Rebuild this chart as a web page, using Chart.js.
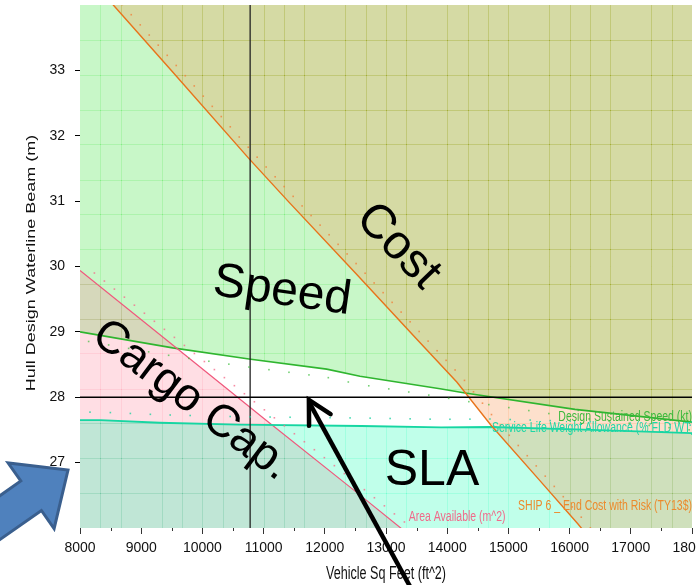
<!DOCTYPE html>
<html><head><meta charset="utf-8">
<script src="https://cdn.jsdelivr.net/npm/chart.js@4/dist/chart.umd.min.js"></script>
<style>html,body{margin:0;padding:0;background:#fff;overflow:hidden}canvas{display:block}</style>
</head><body>
<canvas id="c" width="696" height="585"></canvas>
<script>
// ---------- data ----------
const xTickValues = [8000, 9000, 10000, 11000, 12000, 13000, 14000, 15000, 16000, 17000, 18000];
const xMinorTicks = [8500, 9500, 10500, 11500, 12500, 13500, 14500, 15500, 16500, 17500];
const yTickValues = [27, 28, 29, 30, 31, 32, 33];
const gridX = [8333, 8667, 9333, 9667, 10000, 10333, 11000, 11333, 11667, 12333, 12667, 13000, 13333,
               14000, 14333, 14667, 15000, 15667, 16000, 16333, 16667, 17333, 17667];
const gridY = [33.47, 32.93, 32.40, 31.87, 31.33, 30.80, 30.27, 29.73, 29.20, 28.67, 28.13, 27.60, 27.07, 26.53];
const xTitle = 'Vehicle Sq Feet (ft^2)';
const yTitle = 'Hull Design Waterline Beam (m)';

// SHIP 6 _ End Cost with Risk (TY13$)
const costX = [8000, 8544, 9500, 10761, 11399, 12500, 13500, 14160, 14709, 15500, 16137, 16300, 18000];
const costY = [34.58, 34.00, 32.99, 31.65, 31.00, 29.90, 28.89, 28.23, 27.58, 26.74, 26.06, 25.88, 24.08];
// Design Sustained Speed (kt)
const speedX = [8000, 9515, 10761, 12031, 12575, 13882, 14291, 16088, 18000];
const speedY = [29.00, 28.755, 28.585, 28.43, 28.32, 28.13, 28.065, 27.815, 27.62];
// Service Life Weight Allowance (% FLD WT)
const slaX = [8000, 8330, 9300, 10600, 12600, 13900, 14700, 16100, 18000];
const slaY = [27.65, 27.65, 27.61, 27.58, 27.56, 27.54, 27.545, 27.51, 27.45];
// Area Available (m^2)
const areaX = [8000, 9500, 11000, 12500, 13300, 18000];
const areaY = [29.94, 28.81, 27.68, 26.56, 25.955, 22.42];
// selected design point
const markerX = 10780;
const markerY = 28.0;

const FONT = "'Liberation Sans', Arial, Helvetica, sans-serif";
const zip = (xs, ys) => xs.map((x, i) => ({x: x, y: ys[i]}));

// ---------- plugins ----------
const bgPlugin = {
  id: 'bg',
  beforeDraw(chart) {
    const ctx = chart.ctx;
    ctx.save(); ctx.fillStyle = '#fff'; ctx.fillRect(0, 0, chart.width, chart.height); ctx.restore();
  }
};

function clipArea(ctx, a) { ctx.beginPath(); ctx.rect(a.left, a.top, a.right - a.left, a.bottom - a.top); ctx.clip(); }

const gridPlugin = {
  id: 'burnGrid',
  beforeDatasetsDraw(chart) {
    const {ctx, chartArea: a, scales: {x, y}} = chart;
    ctx.save(); clipArea(ctx, a);
    ctx.globalCompositeOperation = 'color-burn';
    ctx.strokeStyle = 'rgb(172,172,172)';
    ctx.lineWidth = 1;
    gridX.forEach(v => { const p = Math.round(x.getPixelForValue(v)) + 0.5; ctx.beginPath(); ctx.moveTo(p, a.top); ctx.lineTo(p, a.bottom); ctx.stroke(); });
    gridY.forEach(v => { const p = Math.round(y.getPixelForValue(v)) + 0.5; ctx.beginPath(); ctx.moveTo(a.left, p); ctx.lineTo(a.right, p); ctx.stroke(); });
    ctx.restore();
  }
};

function pointOn(pts, px) {
  for (let i = 0; i < pts.length - 1; i++) {
    const p = pts[i], q = pts[i + 1];
    if (px >= p.x && px <= q.x) { const t = (px - p.x) / (q.x - p.x); return {y: p.y + t * (q.y - p.y), dx: q.x - p.x, dy: q.y - p.y}; }
  }
  return null;
}
const dotSpecs = [
  {ds: 0, side: 1, dist: 7, step: 9, color: 'rgba(240,130,60,0.8)'},
  {ds: 1, side: 1, dist: 8, step: 20, color: 'rgba(30,210,160,0.8)'},
  {ds: 2, side: 1, dist: 7, step: 10, color: 'rgba(245,110,140,0.8)'},
  {ds: 3, side: -1, dist: 8, step: 20, color: 'rgba(60,190,60,0.7)'}
];
const dotsPlugin = {
  id: 'dots',
  afterDatasetsDraw(chart) {
    const {ctx, chartArea: a} = chart;
    ctx.save(); clipArea(ctx, a);
    dotSpecs.forEach(s => {
      const pts = chart.getDatasetMeta(s.ds).data.map(e => ({x: e.x, y: e.y}));
      ctx.fillStyle = s.color;
      for (let px = a.left + 10; px < a.right; px += s.step) {
        const r = pointOn(pts, px); if (!r) continue;
        const len = Math.hypot(r.dx, r.dy);
        const nx = s.side * r.dy / len, ny = -s.side * r.dx / len;
        ctx.fillRect(px + nx * s.dist - 0.8, r.y + ny * s.dist - 0.8, 1.6, 1.6);
      }
    });
    ctx.restore();
  }
};

const textPlugin = {
  id: 'texts',
  afterDatasetsDraw(chart) {
    const {ctx, chartArea: a, scales: {x, y}} = chart;
    ctx.save(); clipArea(ctx, a);
    const big = [
      {t: 'Cost', x: 13196, y: 30.31, r: 46, s: 48},
      {t: 'Speed', x: 11301, y: 29.62, r: 8, s: 48},
      {t: 'Cargo Cap.', x: 9820, y: 27.95, r: 37, s: 46},
      {t: 'SLA', x: 13752, y: 26.87, r: 0, s: 50}
    ];
    ctx.fillStyle = '#000'; ctx.textAlign = 'center'; ctx.textBaseline = 'middle';
    big.forEach(b => {
      ctx.save();
      ctx.translate(x.getPixelForValue(b.x), y.getPixelForValue(b.y));
      ctx.rotate(b.r * Math.PI / 180);
      ctx.font = b.s + 'px ' + FONT;
      ctx.fillText(b.t, 0, 0);
      ctx.restore();
    });
    const small = [
      {t: 'Design Sustained Speed (kt)', x: 18000, y: 27.7, align: 'right', c: '#3cb93c'},
      {t: 'Service Life Weight Allowance (% FLD WT)', x: 14730, y: 27.52, align: 'left', c: '#1fd6a6'},
      {t: 'SHIP 6 _ End Cost with Risk (TY13$)', x: 18000, y: 26.33, align: 'right', c: '#ec8a2c'},
      {t: 'Area Available (m^2)', x: 13370, y: 26.17, align: 'left', c: '#f06a8a'}
    ];
    ctx.textBaseline = 'middle';
    small.forEach(b => {
      ctx.save();
      ctx.translate(x.getPixelForValue(b.x), y.getPixelForValue(b.y));
      ctx.scale(0.75, 1);
      ctx.font = '14px ' + FONT;
      ctx.fillStyle = b.c; ctx.textAlign = b.align;
      ctx.fillText(b.t, 0, 0);
      ctx.restore();
    });
    ctx.restore();
  }
};

const overlayPlugin = {
  id: 'overlay',
  afterDraw(chart) {
    const {ctx, chartArea: a, scales: {x, y}} = chart;
    ctx.save();
    // minor x ticks
    ctx.strokeStyle = '#333'; ctx.lineWidth = 1;
    xMinorTicks.forEach(v => { const p = Math.round(x.getPixelForValue(v)) + 0.5; ctx.beginPath(); ctx.moveTo(p, a.bottom); ctx.lineTo(p, a.bottom + 3); ctx.stroke(); });
    // axis titles (horizontally condensed as in the source screenshot)
    ctx.fillStyle = '#111'; ctx.textAlign = 'center'; ctx.textBaseline = 'middle';
    ctx.font = '18px ' + FONT;
    ctx.save(); ctx.translate((a.left + a.right) / 2, 574); ctx.scale(0.7, 1); ctx.fillText(xTitle, 0, 0); ctx.restore();
    ctx.save(); ctx.translate(32, 263); ctx.rotate(-Math.PI / 2); ctx.scale(1, 0.7); ctx.fillText(yTitle, 0, 0); ctx.restore();
    // black pointer arrow toward the design point
    const tip = {x: x.getPixelForValue(11740), y: y.getPixelForValue(27.96)};
    const tail = {x: tip.x + 103, y: tip.y + 190};
    const ang = Math.atan2(tail.y - tip.y, tail.x - tip.x);
    ctx.strokeStyle = '#000'; ctx.lineWidth = 4.5; ctx.lineCap = 'butt';
    ctx.beginPath(); ctx.moveTo(tail.x, tail.y); ctx.lineTo(tip.x, tip.y + 2); ctx.stroke();
    ctx.lineCap = 'round'; ctx.lineJoin = 'miter';
    ctx.beginPath();
    ctx.moveTo(tip.x + 26 * Math.cos(ang + 0.49), tip.y + 26 * Math.sin(ang + 0.49));
    ctx.lineTo(tip.x, tip.y);
    ctx.lineTo(tip.x + 26 * Math.cos(ang - 0.49), tip.y + 26 * Math.sin(ang - 0.49));
    ctx.stroke();
    // blue block arrow at left
    ctx.beginPath();
    ctx.moveTo(-6, 499.8); ctx.lineTo(20.8, 481); ctx.lineTo(8.1, 463); ctx.lineTo(68, 470);
    ctx.lineTo(54.1, 528.6); ctx.lineTo(41.4, 510.5); ctx.lineTo(-6, 543.7); ctx.closePath();
    ctx.fillStyle = '#4f81bd'; ctx.fill();
    ctx.strokeStyle = '#3a5f8e'; ctx.lineWidth = 3; ctx.lineJoin = 'miter'; ctx.stroke();
    ctx.restore();
  }
};

// ---------- chart ----------
new Chart(document.getElementById('c'), {
  type: 'line',
  data: {
    datasets: [
      {label: 'SHIP 6 _ End Cost with Risk (TY13$)', data: zip(costX, costY), borderColor: '#e8731a', borderWidth: 1.4,
       backgroundColor: 'rgba(248,140,67,0.27)', fill: 'end', order: 0},
      {label: 'Service Life Weight Allowance (% FLD WT)', data: zip(slaX, slaY), borderColor: '#16d6a2', borderWidth: 1.8,
       backgroundColor: 'rgba(3,255,171,0.25)', fill: 'start', order: 1},
      {label: 'Area Available (m^2)', data: zip(areaX, areaY), borderColor: '#f0587c', borderWidth: 1.2,
       backgroundColor: 'rgba(255,123,147,0.25)', fill: 'start', order: 2},
      {label: 'Design Sustained Speed (kt)', data: zip(speedX, speedY), borderColor: '#2fb52f', borderWidth: 1.6,
       backgroundColor: 'rgba(35,223,35,0.25)', fill: 'end', order: 3},
      {label: 'design x', data: [{x: markerX, y: 26}, {x: markerX, y: 34}], borderColor: '#222', borderWidth: 1.3, fill: false, order: -1},
      {label: 'design y', data: [{x: 8000, y: markerY}, {x: 18000, y: markerY}], borderColor: '#000', borderWidth: 1.5, fill: false, order: -2}
    ]
  },
  options: {
    responsive: false,
    animation: false,
    events: [],
    elements: {point: {radius: 0}, line: {tension: 0}},
    layout: {padding: {top: 5, right: 4, left: 0, bottom: 0}},
    plugins: {legend: {display: false}, tooltip: {enabled: false}, filler: {drawTime: 'beforeDatasetsDraw'}},
    scales: {
      x: {
        type: 'linear', min: 8000, max: 18000,
        afterBuildTicks: s => { s.ticks = xTickValues.map(v => ({value: v})); },
        afterFit: s => { s.height = 57; s.paddingLeft = 0; s.paddingRight = 0; },
        ticks: {font: {family: FONT, size: 14}, color: '#111', padding: 6, maxRotation: 0, autoSkip: false, callback: v => String(v)},
        grid: {display: true, drawOnChartArea: false, drawTicks: true, tickLength: 6, tickColor: '#333', tickWidth: 1},
        border: {display: false},
        title: {display: false}
      },
      y: {
        type: 'linear', min: 26, max: 34,
        afterBuildTicks: s => { s.ticks = yTickValues.map(v => ({value: v})); },
        afterFit: s => { s.width = 80; s.paddingTop = 0; s.paddingBottom = 0; },
        ticks: {font: {family: FONT, size: 14}, color: '#111', padding: 10, callback: v => String(v)},
        grid: {display: true, drawOnChartArea: false, drawTicks: true, tickLength: 5, tickColor: '#000', tickWidth: 1},
        border: {display: false},
        title: {display: false}
      }
    }
  },
  plugins: [bgPlugin, gridPlugin, dotsPlugin, textPlugin, overlayPlugin]
});
</script>
</body></html>
